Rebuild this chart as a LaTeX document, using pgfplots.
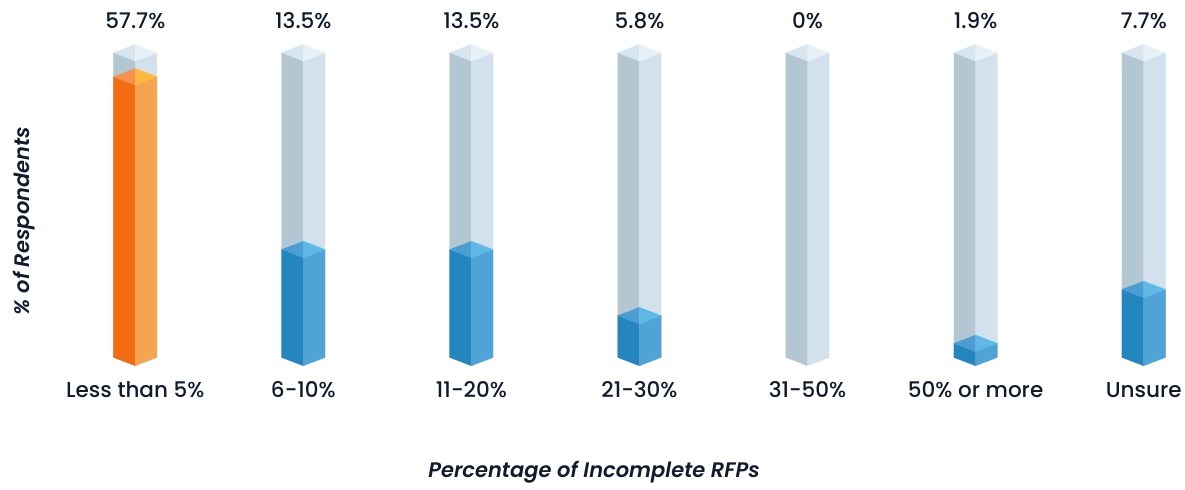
\documentclass[border=0pt]{standalone}
\usepackage{pgfplots}
\pgfplotsset{compat=1.18}
\usepackage{pgfplotstable}
\usepackage{fontspec}
\setmainfont{Poppins}[UprightFont=* Medium, ItalicFont=* Medium Italic, BoldFont=* SemiBold, BoldItalicFont=* SemiBold Italic]
\definecolor{txt}{HTML}{111B2E}
\definecolor{bgL}{HTML}{B2C7D1}
\definecolor{bgR}{HTML}{D2E1EB}
\definecolor{bgTL}{HTML}{D8E6EF}
\definecolor{bgTR}{HTML}{E7F1F8}
\definecolor{orL}{HTML}{F36C12}
\definecolor{orR}{HTML}{F4A54F}
\definecolor{orTL}{HTML}{F4914F}
\definecolor{orTR}{HTML}{FDB83E}
\definecolor{blL}{HTML}{2486BF}
\definecolor{blR}{HTML}{4FA3D6}
\definecolor{blTL}{HTML}{4B9DD3}
\definecolor{blTR}{HTML}{5EB9E7}

% x = category position, fill = drawn height of the coloured part (fraction of the glass bar), val = label
\pgfplotstableread{
x fill val
0 0.921 57.7
1 0.354 13.5
2 0.354 13.5
3 0.137 5.8
4 0 0
5 0.046 1.9
6 0.223 7.7
}\bardata

\def\bw{0.129}
\def\bd{0.0272}

\newcommand\prism[6]{%
 \pgfmathsetmacro\xa{#1-\bw}%
 \pgfmathsetmacro\xb{#1+\bw}%
 \pgfmathsetmacro\ytd{#2+\bd}%
 \pgfmathsetmacro\yttd{#2+2*\bd}%
 \edef\tmp{%
  \noexpand\addplot[fill=#3,draw=#3,line width=0.3pt,forget plot] coordinates {(\xa,\bd) (#1,0) (#1,#2) (\xa,\ytd)} --cycle;
  \noexpand\addplot[fill=#4,draw=#4,line width=0.3pt,forget plot] coordinates {(#1,0) (\xb,\bd) (\xb,\ytd) (#1,#2)} --cycle;
  \noexpand\addplot[fill=#5,draw=#5,line width=0.3pt,forget plot] coordinates {(#1,#2) (\xa,\ytd) (#1,\yttd)} --cycle;
  \noexpand\addplot[fill=#6,draw=#6,line width=0.3pt,forget plot] coordinates {(#1,#2) (\xb,\ytd) (#1,\yttd)} --cycle;
 }\tmp}

\newcommand\lab{\fontsize{21.5bp}{25bp}\selectfont}
\newcommand\tit{\fontsize{21bp}{25bp}\selectfont}

\begin{document}
\begin{tikzpicture}
\begin{axis}[
 scale only axis, width=1185bp, height=489bp,
 xmin=-0.805, xmax=6.246, ymin=-0.4047, ymax=1.2002,
 axis line style={draw=none}, tick style={draw=none}, ytick=\empty,
 xtick={0,...,6},
 xticklabels={Less than 5\%, 6-10\%, 11-20\%, 21-30\%, 31-50\%, 50\% or more, Unsure},
 xticklabel style={anchor=base, yshift=92bp, font=\lab, text=txt},
 xlabel={Percentage of Incomplete RFPs},
 xlabel style={at={(axis description cs:0.5013,0.0245)}, anchor=base, font=\tit\bfseries\itshape, text=txt},
 ylabel={\% of Respondents},
 ylabel style={at={(axis description cs:0.0253,0.548)}, anchor=base, font=\tit\bfseries\itshape, text=txt},
 clip=false,
]
\pgfplotsinvokeforeach{0,...,6}{
  \prism{#1}{1}{bgL}{bgR}{bgTL}{bgTR}
  \pgfplotstablegetelem{#1}{fill}\of\bardata
  \let\f\pgfplotsretval
  \ifdim\f pt>0pt
    \ifnum#1=0
      \prism{#1}{\f}{orL}{orR}{orTL}{orTR}
    \else
      \prism{#1}{\f}{blL}{blR}{blTL}{blTR}
    \fi
  \fi
}
\addplot[draw=none, mark=none, nodes near coords={\pgfplotspointmeta\%}, point meta=explicit symbolic,
  every node near coord/.append style={anchor=base, font=\lab, text=txt}]
  table[x=x, y expr=1.1073, meta=val]{\bardata};
\coordinate (bl) at (rel axis cs:0,0);
\coordinate (tr) at (rel axis cs:1,1);
\end{axis}
\pgfresetboundingbox
\path (bl) rectangle (tr);
\end{tikzpicture}
\end{document}
